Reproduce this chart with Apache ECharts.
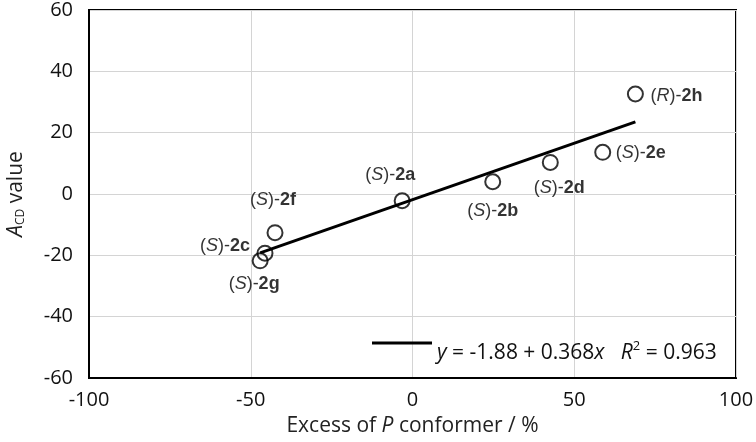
<!DOCTYPE html>
<html>
<head>
<meta charset="utf-8">
<script src="https://cdn.jsdelivr.net/npm/echarts@6/dist/echarts.min.js"></script>
<style>
  html, body { margin: 0; padding: 0; background: #fff; }
  #chart { width: 756px; height: 442px; }
</style>
</head>
<body>
<div id="chart"></div>
<script>
// 各化合物の値 (excess of P conformer / %, A_CD)
var compounds = ['2a', '2b', '2c', '2d', '2e', '2f', '2g', '2h']
var config = ['S', 'S', 'S', 'S', 'S', 'S', 'S', 'R']
var excessP = [-3.2, 24.8, -45.6, 42.6, 58.8, -42.5, -47.1, 68.9]
var aCD = [-2.2, 4.0, -19.3, 10.3, 13.6, -12.6, -21.8, 32.6]

// regression line ends
var fitX = [-47.1, 68.9]
var fitY = [-19.2, 23.5]

// label offsets (px, relative to the circle centre)
var labelOffset = [[-12, -26], [0, 29], [-40, -7], [9, 26], [38, 1], [-2, -33], [-6, 23], [41, 2]]

var tickFont = 'Open Sans'
var labelFont = 'Liberation Sans'

var myChart = echarts.init(document.getElementById('chart'))

var points = excessP.map(function (x, i) {
  return {
    value: [x, aCD[i]],
    name: compounds[i],
    label: {
      show: true,
      position: 'inside',
      offset: labelOffset[i],
      formatter: '({i|' + config[i] + '})-{b|' + compounds[i] + '}'
    }
  }
})

var option = {
  animation: false,
  grid: {
    left: 89, right: 20, top: 10, bottom: 64,
    outerBoundsMode: 'none',
    show: true, borderColor: '#000', borderWidth: 2
  },
  legend: {
    left: 372, top: 340, padding: 0,
    itemWidth: 60, itemHeight: 3, itemGap: 0,
    data: [{ name: 'fit', icon: 'rect' }],
    formatter: function () {
      return '{i|y} = -1.88 + 0.368{i|x}   {i|R}{sup|2} = 0.963'
    },
    textStyle: {
      fontFamily: tickFont, fontSize: 21, color: '#111',
      padding: [20, 0, 0, 0],
      rich: {
        i: { fontFamily: tickFont, fontSize: 21, fontStyle: 'italic', color: '#111' },
        sup: { fontFamily: tickFont, fontSize: 13, color: '#111', verticalAlign: 'top', padding: [0, 0, 13, 0] }
      }
    }
  },
  xAxis: {
    type: 'value', min: -100, max: 100, interval: 50,
    name: 'Excess of {i|P} conformer / %',
    nameLocation: 'middle', nameGap: 38,
    nameTextStyle: {
      fontFamily: tickFont, fontSize: 21, color: '#222',
      rich: { i: { fontFamily: tickFont, fontSize: 21, fontStyle: 'italic', color: '#222' } }
    },
    axisLine: { onZero: false, lineStyle: { color: '#000', width: 2 } },
    axisTick: { show: false },
    axisLabel: { fontFamily: tickFont, fontSize: 20, color: '#111', margin: 12 },
    splitLine: { lineStyle: { color: '#d4d4d4', width: 1 } }
  },
  yAxis: {
    type: 'value', min: -60, max: 60, interval: 20,
    name: '{i|A}{sub|CD} value',
    nameLocation: 'middle', nameGap: 62,
    nameTextStyle: {
      fontFamily: tickFont, fontSize: 21, color: '#222',
      rich: {
        i: { fontFamily: tickFont, fontSize: 21, fontStyle: 'italic', color: '#222' },
        sub: { fontFamily: tickFont, fontSize: 12, color: '#222', verticalAlign: 'bottom', padding: [10, 0, 0, 0] }
      }
    },
    axisLine: { onZero: false, lineStyle: { color: '#000', width: 2 } },
    axisTick: { show: false },
    axisLabel: { fontFamily: tickFont, fontSize: 20, color: '#111', margin: 16 },
    splitLine: { lineStyle: { color: '#d4d4d4', width: 1 } }
  },
  series: [
    {
      name: 'fit',
      type: 'line',
      symbol: 'none',
      z: 2,
      lineStyle: { color: '#000', width: 3 },
      itemStyle: { color: '#000' },
      data: fitX.map(function (x, i) { return [x, fitY[i]] })
    },
    {
      name: 'compounds',
      type: 'scatter',
      symbol: 'circle',
      symbolSize: 15,
      z: 3,
      itemStyle: { color: 'rgba(255,255,255,0)', borderColor: '#000', borderWidth: 2 },
      label: {
        fontFamily: labelFont, fontSize: 18, color: '#000',
        rich: {
          i: { fontFamily: labelFont, fontSize: 18, fontStyle: 'italic', color: '#000' },
          b: { fontFamily: labelFont, fontSize: 18, fontWeight: 'bold', color: '#000' }
        }
      },
      data: points
    }
  ]
}

myChart.setOption(option)
</script>
</body>
</html>
